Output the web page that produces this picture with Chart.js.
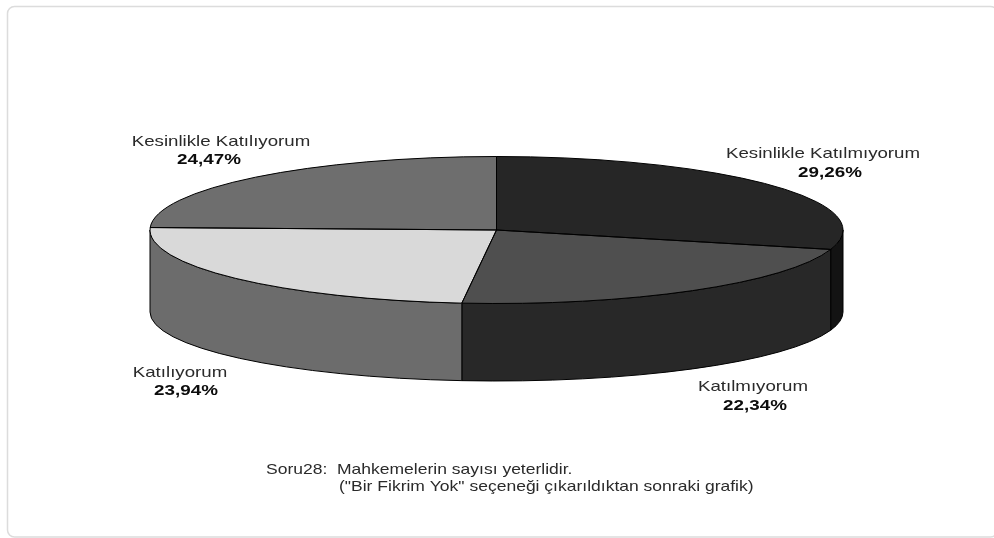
<!DOCTYPE html>
<html>
<head>
<meta charset="utf-8">
<style>
  html, body { margin: 0; padding: 0; background: #fff; }
  canvas { display: block; }
</style>
<script src="https://cdn.jsdelivr.net/npm/chart.js@4/dist/chart.umd.min.js"></script>
</head>
<body>
<canvas id="mychart" width="994" height="538"></canvas>
<script>
// -------- data --------
const categories = ['Kesinlikle Katılmıyorum', 'Katılmıyorum', 'Katılıyorum', 'Kesinlikle Katılıyorum'];
const percents = [29.26, 22.34, 23.94, 24.47];
const captionLines = ['Mahkemelerin sayısı yeterlidir.', '("Bir Fikrim Yok" seçeneği çıkarıldıktan sonraki grafik)'];
const topColors = ['#262626', '#4f4f4f', '#d9d9d9', '#6e6e6e'];
const wallColors = ['#131313', '#282828', '#6c6c6c', '#4a4a4a'];

// label centres: [name x, name y, value x, value y]
const labelSpots = [
  [823, 154, 830, 173],
  [753, 387, 755, 406],
  [180, 373, 186, 391],
  [221, 142, 209, 160]
];

// tilt of the pie
const squash = 73.5 / 346.5;
const floorDrop = 82;    // centre of the wall's lower rim below the top face
const floorRy = 69;

// the reference text is stretched sideways
function wideText(ctx, text, x, y, font, stretch) {
  ctx.save();
  ctx.font = font;
  ctx.translate(x, y);
  ctx.scale(stretch, 1);
  ctx.fillText(text, 0, 0);
  ctx.restore();
}

const tiltPlugin = {
  id: 'tilt',
  beforeDatasetDraw(chart, args) {
    const ctx = chart.ctx;
    const arcs = args.meta.data;
    const cx = arcs[0].x, cy = arcs[0].y, r = arcs[0].outerRadius, ry = r * squash;
    ctx.save();
    ctx.lineWidth = 1;
    ctx.strokeStyle = '#000';
    ctx.lineJoin = 'round';

    // walls, only the front half of the rim can be seen
    arcs.forEach((arc, i) => {
      const a = Math.max(arc.startAngle, 0);
      const b = Math.min(arc.endAngle, Math.PI);
      if (b <= a) return;
      ctx.beginPath();
      ctx.ellipse(cx, cy, r, ry, 0, a, b);
      ctx.ellipse(cx, cy + floorDrop, r, floorRy, 0, b, a, true);
      ctx.closePath();
      ctx.fillStyle = wallColors[i];
      ctx.fill();
      ctx.stroke();
    });

    // top face, the library's own arcs under a squashed transform
    ctx.save();
    ctx.translate(cx, cy);
    ctx.scale(1, squash);
    ctx.translate(-cx, -cy);
    arcs.forEach(arc => arc.draw(ctx));
    ctx.restore();

    // outlines kept out of the transform so the line stays even
    arcs.forEach(arc => {
      ctx.beginPath();
      ctx.moveTo(cx, cy);
      ctx.ellipse(cx, cy, r, ry, 0, arc.startAngle, arc.endAngle);
      ctx.closePath();
      ctx.stroke();
    });
    ctx.restore();
    return false;
  },
  beforeDraw(chart) {
    const ctx = chart.ctx;
    ctx.save();
    ctx.fillStyle = '#fff';
    ctx.fillRect(0, 0, 994, 538);
    ctx.strokeStyle = '#dcdcdc';
    ctx.lineWidth = 1.5;
    ctx.beginPath();
    ctx.roundRect(7.5, 6.5, 990, 530.5, 7);
    ctx.stroke();
    ctx.restore();
  },
  afterDraw(chart) {
    const ctx = chart.ctx;
    ctx.save();
    ctx.filter = 'blur(0.45px)';
    ctx.textBaseline = 'middle';
    ctx.textAlign = 'center';
    categories.forEach((name, i) => {
      const s = labelSpots[i];
      ctx.fillStyle = '#2a2a2a';
      wideText(ctx, name, s[0], s[1], '15px "Liberation Sans"', 1.245);
      ctx.fillStyle = '#0c0c0c';
      wideText(ctx, percents[i].toFixed(2).replace('.', ',') + '%', s[2], s[3], 'bold 15.5px "Liberation Sans"', 1.215);
    });
    ctx.textAlign = 'left';
    ctx.fillStyle = '#2a2a2a';
    wideText(ctx, 'Soru28:', 266, 470, '15px "Liberation Sans"', 1.167);
    wideText(ctx, captionLines[0], 337, 470, '15px "Liberation Sans"', 1.167);
    wideText(ctx, captionLines[1], 339, 487, '15px "Liberation Sans"', 1.167);
    ctx.restore();
  }
};

const config = {
  type: 'pie',
  data: {
    labels: categories,
    datasets: [{
      data: percents,
      backgroundColor: topColors,
      borderWidth: 0,
      radius: 346.5
    }]
  },
  options: {
    responsive: false,
    animation: false,
    layout: { padding: { right: 1, bottom: 78 } },
    plugins: {
      legend: { display: false },
      tooltip: { enabled: false }
    }
  },
  plugins: [tiltPlugin]
};

new Chart(document.getElementById('mychart'), config);
</script>
</body>
</html>
